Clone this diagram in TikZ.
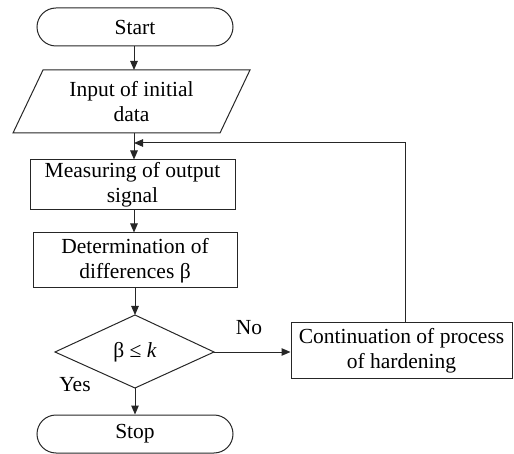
\documentclass[tikz,border=0pt]{standalone}
\usepackage{fontspec}
\setmainfont{Liberation Serif}
\usetikzlibrary{arrows.meta}
\begin{document}
\begin{tikzpicture}[x=1pt,y=-1pt,
  every node/.style={font=\fontsize{21.5}{25}\selectfont, align=center, inner sep=0pt},
  line/.style={line width=1pt, draw=black!85},
  arr/.style={line, -{Triangle[length=9pt,width=7.5pt]}},
  term/.style={line, draw, rounded corners=19pt, minimum width=196pt, minimum height=38pt},
  proc/.style={line, draw},
  lbl/.style={font=\fontsize{21.5}{25}\selectfont}]
\useasboundingbox (0,0) rectangle (514,454);
% Start
\node[term] (start) at (135,27) {Start};
% Input parallelogram
\coordinate (i1) at (43,70);
\coordinate (i2) at (250,70);
\coordinate (i3) at (220,133);
\coordinate (i4) at (13,133);
\draw[line] (i1) -- (i2) -- (i3) -- (i4) -- cycle;
\node (input) at (131.5,101.5) {Input of initial\\data};
\coordinate (inTop) at (134,70);
\coordinate (inBot) at (134,133);
% Measuring
\node[proc, minimum width=205pt, minimum height=50pt] (meas) at (132.5,185) {Measuring of output\\signal};
% Determination
\node[proc, minimum width=204pt, minimum height=55pt] (det) at (135,260.5) {Determination of\\differences β};
% Decision diamond
\coordinate (dT) at (135,315);
\coordinate (dR) at (214,352);
\coordinate (dB) at (135,388);
\coordinate (dL) at (55,352);
\draw[line] (dT) -- (dR) -- (dB) -- (dL) -- cycle;
\node (dec) at (135,352) {β ≤ \textit{k}};
% Stop
\node[term] (stop) at (135,434) {Stop};
% Continuation
\node[proc, minimum width=221pt, minimum height=55pt] (cont) at (401.5,350.5) {Continuation of process\\of hardening};
% Connectors
\draw[arr] (start.south -| inTop) -- (inTop);
\draw[arr] (inBot) -- (meas.north -| inBot);
\draw[arr] (meas.south -| inBot) -- (det.north -| inBot);
\draw[arr] (det.south -| dT) -- (dT);
\draw[arr] (dB) -- (stop.north -| dB);
\draw[arr] (dR) -- (cont.west |- dR);
\coordinate (fbTop) at (405,143);
\coordinate (fbIn) at (134,143);
\draw[arr] (cont.north -| fbTop) -- (fbTop) -- (fbIn);
% Labels
\node[lbl] (no) at (249,328) {No};
\node[lbl] (yes) at (75,385) {Yes};
\end{tikzpicture}
\end{document}
